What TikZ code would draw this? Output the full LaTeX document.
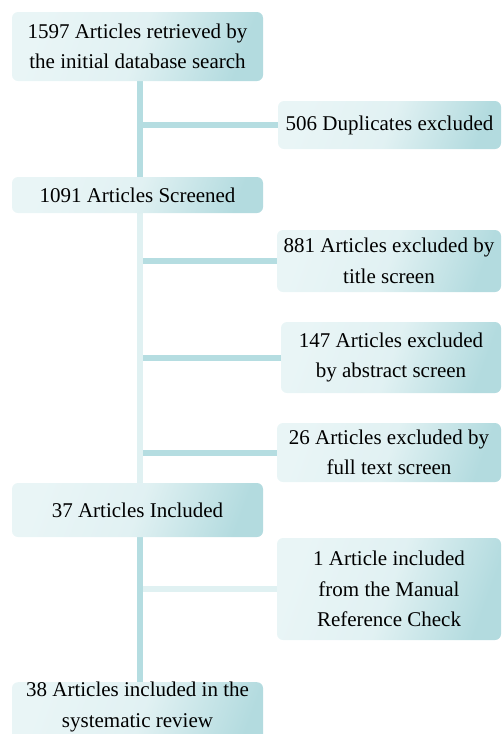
\documentclass[tikz,border=0pt]{standalone}
\usepackage{fontspec}
\setmainfont{Liberation Serif}
\usepackage{tikz}
\usetikzlibrary{calc}
\usetikzlibrary{backgrounds}
\definecolor{boxlight}{HTML}{E9F5F6}
\definecolor{boxdark}{HTML}{B3DBDF}
\definecolor{linkdark}{HTML}{B5DDE1}
\definecolor{linklight}{HTML}{E0F1F2}
\tikzset{
  stepbox/.style={rounded corners=6pt, left color=boxlight, right color=boxdark,
    middle color=boxlight!85!boxdark, shading angle=70, align=center, inner sep=0pt,
    font=\rmfamily\fontsize{21}{30.5}\selectfont, text=black},
  link/.style={line width=6pt, linkdark},
  linkpale/.style={line width=6pt, linklight}
}

\begin{document}
\begin{tikzpicture}[x=1pt,y=-1pt]
\useasboundingbox (0,0) rectangle (501,734);
\coordinate (spine) at (140,0);
% main column
\node[stepbox, minimum width=251pt, minimum height=69pt] (search) at (137.5,46.5)
  {1597 Articles retrieved by\\the initial database search};
\node[stepbox, minimum width=251pt, minimum height=36pt] (screened) at (137.5,195)
  {1091 Articles Screened};
\node[stepbox, minimum width=251pt, minimum height=54pt] (included) at (137.5,510)
  {37 Articles Included};
\node[stepbox, minimum width=251pt, text depth=42pt, anchor=north] (review) at (137.5,682)
  {38 Articles included in the\\systematic review};
% side boxes
\node[stepbox, minimum width=223pt, minimum height=48pt] (dupl) at (389.5,125)
  {506 Duplicates excluded};
\node[stepbox, minimum width=224pt, minimum height=62pt] (title) at (389,261)
  {881 Articles excluded by\\title screen};
\node[stepbox, minimum width=220pt, minimum height=71pt] (abstr) at (391,357.5)
  {147 Articles excluded\\by abstract screen};
\node[stepbox, minimum width=224pt, minimum height=59pt] (fulltext) at (389,452.5)
  {26 Articles excluded by\\full text screen};
\node[stepbox, minimum width=224pt, minimum height=102pt] (manual) at (389,589)
  {1 Article included\\from the Manual\\Reference Check};
% connectors
\begin{scope}[on background layer]
\draw[link] (search.south -| spine) -- (screened.north -| spine);
\draw[link] (spine |- dupl.west) -- (dupl.west);
\draw[linkpale] (screened.south -| spine) -- (included.north -| spine);
\foreach \n in {title,abstr,fulltext} {
  \draw[link] ($(spine |- \n.west)+(3,0)$) -- (\n.west);
}
\draw[link] (included.south -| spine) -- (review.north -| spine);
\draw[linkpale] ($(spine |- manual.west)+(3,0)$) -- (manual.west);
\end{scope}
\end{tikzpicture}
\end{document}
